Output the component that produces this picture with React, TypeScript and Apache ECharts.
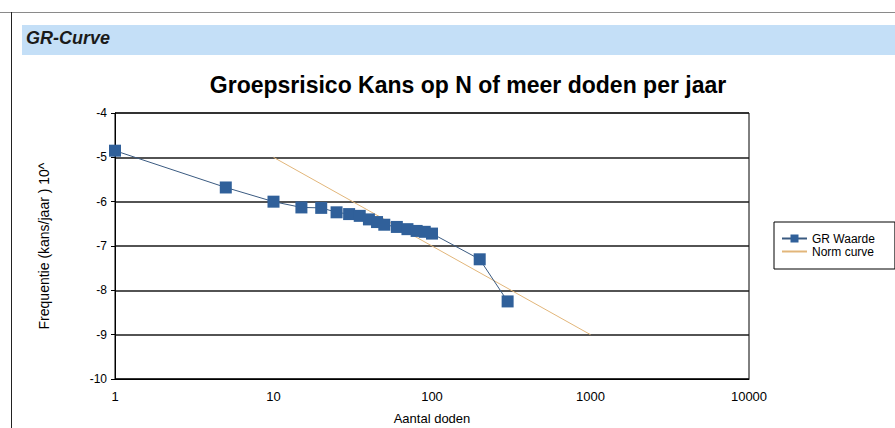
import React, { useEffect, useRef } from "react";
import * as echarts from "echarts";

const chartTitle = "Groepsrisico Kans op N of meer doden per jaar";
const headerText = "GR-Curve";
const xAxisName = "Aantal doden";
const yAxisName = "Frequentie (kans/jaar ) 10^";
const grName = "GR Waarde";
const normName = "Norm curve";

const grDeaths = [1, 5, 10, 15, 20, 25, 30, 35, 40, 45, 50, 60, 70, 80, 90, 100, 200, 300];
const grFreq = [-4.85, -5.68, -6.0, -6.13, -6.14, -6.24, -6.28, -6.32, -6.4, -6.46, -6.52, -6.57, -6.62, -6.66, -6.68, -6.72, -7.3, -8.25];
const normDeaths = [10, 1000];
const normFreq = [-5, -9];

const FONT = "'Liberation Sans', Arial, sans-serif";

export default function App() {
  const ref = useRef<HTMLDivElement>(null);
  useEffect(() => {
    if (!ref.current) return;
    const chart = echarts.init(ref.current, null, { renderer: "svg" });
    chart.setOption({
      animation: false,
      backgroundColor: "#ffffff",
      textStyle: { fontFamily: FONT },
      title: {
        text: chartTitle,
        left: 463,
        top: 68,
        textAlign: "center",
        textStyle: { fontFamily: FONT, fontSize: 23, fontWeight: "bold", color: "#000" },
      },
      graphic: [
        { type: "line", shape: { x1: 0, y1: 12.5, x2: 895, y2: 12.5 }, style: { stroke: "#8a8a8a", lineWidth: 1 } },
        { type: "line", shape: { x1: 11.5, y1: 12, x2: 11.5, y2: 428 }, style: { stroke: "#222", lineWidth: 1 } },
        { type: "rect", shape: { x: 22, y: 25, width: 873, height: 30 }, style: { fill: "#c4dff7" } },
        {
          type: "text",
          x: 26,
          y: 38,
          style: {
            text: headerText,
            fill: "#1a1a1a",
            font: "italic bold 18px 'Liberation Sans', Arial, sans-serif",
            verticalAlign: "middle",
          },
        },
      ],
      legend: {
        left: 774,
        top: 222,
        orient: "vertical",
        padding: [10, 20, 11, 7],
        itemGap: 0,
        itemWidth: 25,
        itemHeight: 10,
        borderColor: "#000",
        borderWidth: 1,
        textStyle: { fontFamily: FONT, fontSize: 12, color: "#000", lineHeight: 13 },
        data: [
          { name: grName },
          { name: normName, itemStyle: { opacity: 0 } },
        ],
      },
      grid: {
        left: 115,
        top: 113,
        right: 146,
        bottom: 49,
        show: true,
        borderColor: "#000",
        borderWidth: 1,
        containLabel: false,
        outerBoundsMode: "none",
      },
      xAxis: {
        type: "log",
        logBase: 10,
        min: 1,
        max: 10000,
        name: xAxisName,
        nameLocation: "middle",
        nameGap: 33,
        nameTextStyle: { fontFamily: FONT, fontSize: 13, color: "#000" },
        axisLine: { lineStyle: { color: "#000", width: 1 } },
        axisTick: { show: false },
        axisLabel: {
          fontFamily: FONT,
          fontSize: 13,
          color: "#000",
          margin: 11,
          formatter: (v: number) => String(Math.round(v)),
        },
        splitLine: { show: false },
        minorTick: { show: false },
      },
      yAxis: {
        type: "value",
        min: -10,
        max: -4,
        interval: 1,
        name: yAxisName,
        nameLocation: "middle",
        nameRotate: 90,
        nameGap: 64,
        nameTextStyle: { fontFamily: FONT, fontSize: 14, color: "#000" },
        axisLine: { show: true, lineStyle: { color: "#000", width: 1 } },
        axisTick: { show: true, inside: false, length: 4, lineStyle: { color: "#000" } },
        axisLabel: { fontFamily: FONT, fontSize: 12, color: "#000", margin: 8 },
        splitLine: { show: true, lineStyle: { color: "#1a1a1a", width: 1.5 } },
      },
      series: [
        {
          name: grName,
          type: "line",
          data: grDeaths.map((d, i) => [d, grFreq[i]]),
          symbol: "rect",
          symbolSize: 12,
          color: "#30609a",
          itemStyle: { color: "#30609a" },
          lineStyle: { color: "#3a5a80", width: 1 },
          z: 3,
        },
        {
          name: normName,
          type: "line",
          data: normDeaths.map((d, i) => [d, normFreq[i]]),
          symbol: "none",
          color: "#e2b67a",
          lineStyle: { color: "#e2b67a", width: 1 },
          z: 2,
        },
      ],
    });
    return () => chart.dispose();
  }, []);
  return (
    <div
      ref={ref}
      style={{ position: "fixed", left: 0, top: 0, width: 895, height: 428 }}
    />
  );
}
